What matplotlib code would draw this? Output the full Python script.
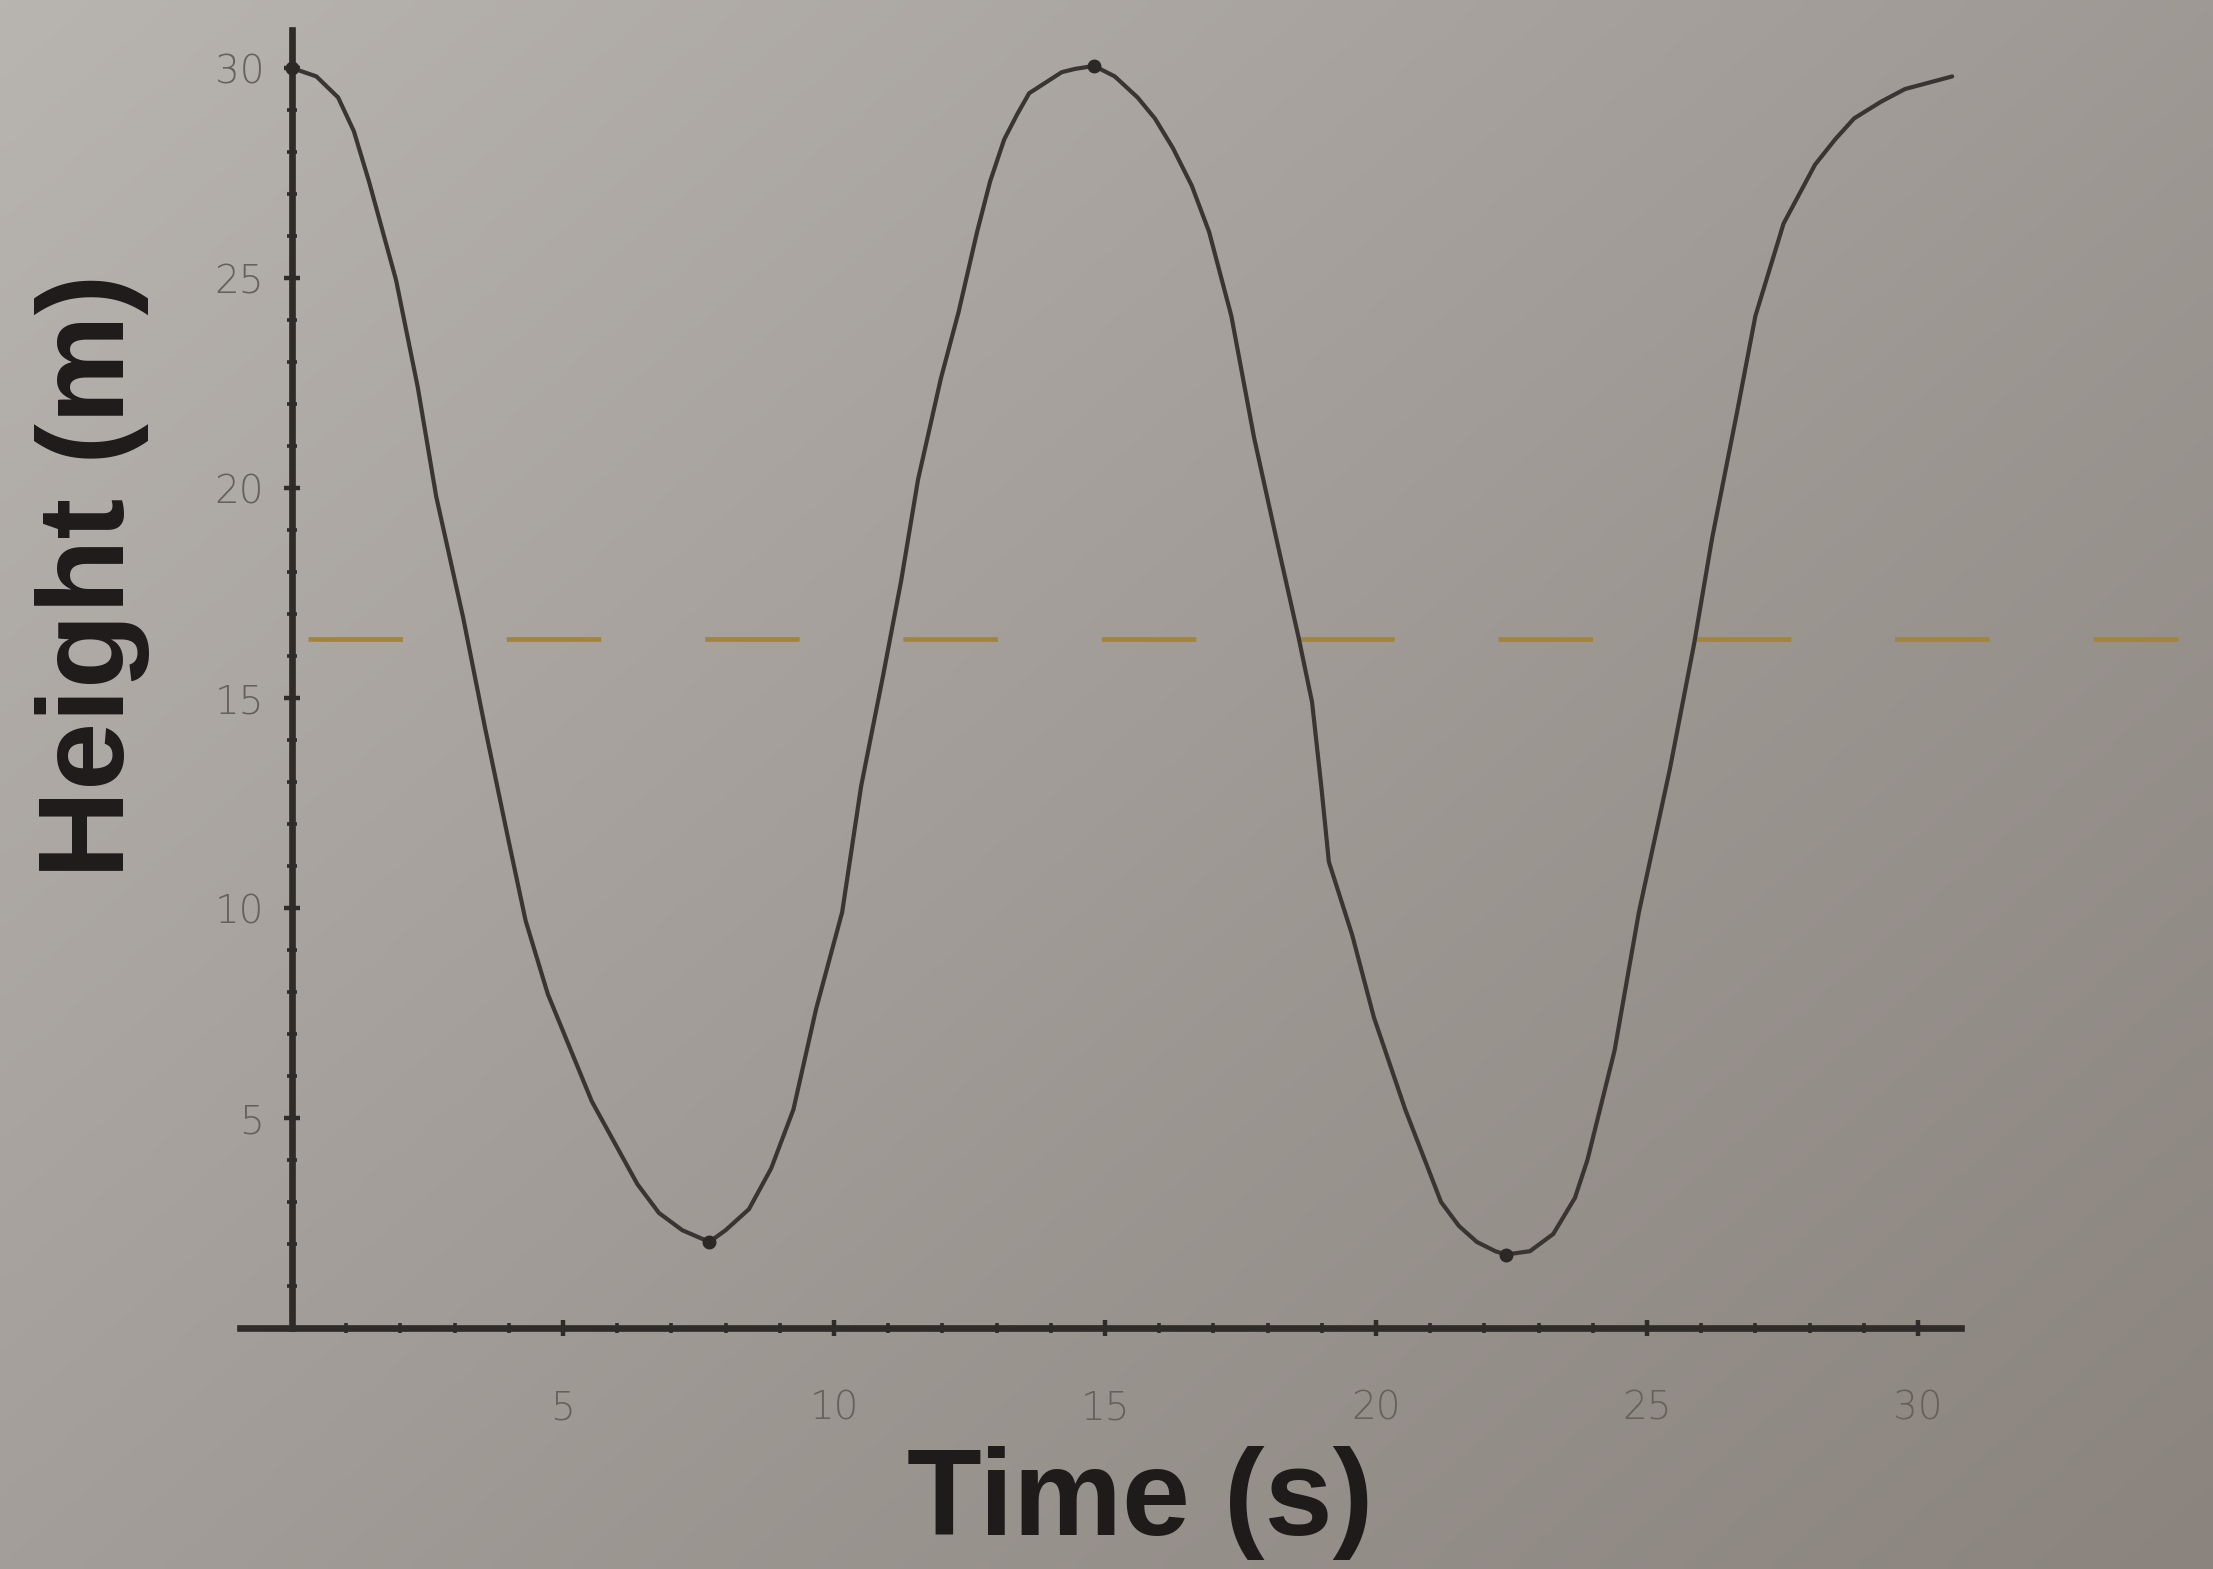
import numpy as np
import matplotlib
matplotlib.use("Agg")
import matplotlib.pyplot as plt
from matplotlib.ticker import FixedLocator

# ---- data ----
time_s = [0.0, 0.45, 0.85, 1.14, 1.42, 1.92, 2.32, 2.66, 3.16, 3.56, 3.98, 4.31,
          4.72, 5.53, 6.37, 6.77, 7.2, 7.7, 8.0, 8.43, 8.84, 9.25, 9.67, 10.15,
          10.5, 10.9, 11.24, 11.55, 11.97, 12.3, 12.64, 12.88, 13.14, 13.38,
          13.6, 14.2, 14.45, 14.8, 15.18, 15.6, 15.92, 16.25, 16.6, 16.92,
          17.33, 17.75, 18.16, 18.57, 18.82, 18.99, 19.13, 19.56, 19.96, 20.54,
          21.2, 21.53, 21.86, 22.2, 22.4, 22.84, 23.27, 23.67, 23.9, 24.4,
          24.85, 25.42, 25.87, 26.2, 26.66, 27.0, 27.52, 28.1, 28.47, 28.82,
          29.32, 29.76, 30.63]
height_m = [30.0, 29.8, 29.3, 28.5, 27.3, 24.95, 22.4, 19.8, 16.9, 14.3, 11.7, 9.7,
            7.95, 5.4, 3.43, 2.74, 2.33, 2.05, 2.33, 2.83, 3.8, 5.2, 7.6, 9.9,
            12.9, 15.5, 17.8, 20.2, 22.6, 24.2, 26.1, 27.3, 28.3, 28.9,
            29.4, 29.9, 29.98, 30.05, 29.8, 29.3, 28.8, 28.1, 27.2, 26.1,
            24.1, 21.2, 18.8, 16.45, 14.9, 12.9, 11.1, 9.36, 7.4, 5.2,
            3.0, 2.43, 2.05, 1.83, 1.75, 1.83, 2.24, 3.1, 4.0, 6.6,
            9.9, 13.3, 16.3, 18.8, 21.8, 24.1, 26.3, 27.7, 28.3, 28.8,
            29.2, 29.5, 29.8]
marker_t = [0.0, 7.7, 14.8, 22.4]
marker_h = [30.0, 2.05, 30.05, 1.75]
midline_h = 16.4
midline_t = [0.3, 34.8]
x_ticks = [5, 10, 15, 20, 25, 30]
y_ticks = [5, 10, 15, 20, 25, 30]
x_minor = [v for v in range(1, 31) if v % 5]
y_minor = [v for v in range(1, 31) if v % 5]

W, H, DPI = 2213, 1569, 200
fig = plt.figure(figsize=(W / DPI, H / DPI), dpi=DPI)

# photographic paper background (decorative)
bg = fig.add_axes([0, 0, 1, 1], zorder=-10)
gx, gy = np.meshgrid(np.linspace(0, 1, 200), np.linspace(0, 1, 150))
g = 0.55 * gx + 0.45 * gy
c0 = np.array([184, 180, 176]) / 255.0
c1 = np.array([138, 131, 126]) / 255.0
img = c0[None, None, :] * (1 - g[..., None]) + c1[None, None, :] * g[..., None]
bg.imshow(img, aspect="auto", extent=[0, 1, 0, 1], interpolation="bilinear")
bg.axis("off")

ax = fig.add_axes([0.08297, 0.1268, 0.9062, 0.8700])
ax.patch.set_alpha(0)
ax.set_xlim(-2, 35)
ax.set_ylim(-1, 31.5)

axis_col = "#2f2b29"
for s in ["top", "right"]:
    ax.spines[s].set_visible(False)
ax.spines["left"].set_position(("data", 0))
ax.spines["bottom"].set_position(("data", 0))
ax.spines["left"].set_bounds(0, 30.9)
ax.spines["bottom"].set_bounds(-0.96, 30.8)
for s in ["left", "bottom"]:
    ax.spines[s].set_linewidth(2.4)
    ax.spines[s].set_color(axis_col)

ax.xaxis.set_major_locator(FixedLocator(x_ticks))
ax.yaxis.set_major_locator(FixedLocator(y_ticks))
ax.xaxis.set_minor_locator(FixedLocator(x_minor))
ax.yaxis.set_minor_locator(FixedLocator(y_minor))
ax.set_xticklabels([str(v) for v in x_ticks])
ax.set_yticklabels([str(v) for v in y_ticks])
ax.tick_params(axis="both", which="major", direction="inout", length=6,
               width=1.6, color=axis_col, labelsize=14, labelcolor="#67615c")
ax.tick_params(axis="both", which="minor", direction="inout", length=3.5,
               width=1.3, color=axis_col)
ax.tick_params(axis="x", which="major", pad=19)
ax.tick_params(axis="y", which="major", pad=7)
for lab in ax.get_xticklabels() + ax.get_yticklabels():
    lab.set_fontfamily("DejaVu Sans")
    lab.set_fontweight("light")

# dashed midline
ax.plot(midline_t, [midline_h, midline_h], color="#a3843f", lw=1.7,
        linestyle=(0, (20, 22)), solid_capstyle="butt", clip_on=False, zorder=2)

# curve
ax.plot(time_s, height_m, color="#3a3532", lw=1.5, solid_joinstyle="round",
        solid_capstyle="round", clip_on=False, zorder=3)
ax.plot(marker_t, marker_h, "o", color="#2c2826", ms=4, clip_on=False, zorder=4)

fig.text(0.0416, 0.633, "Height (m)", rotation=90, ha="center", va="center",
         fontsize=44, fontweight="bold", family="Liberation Sans", color="#1e1b1a")
fig.text(0.515, 0.042, "Time (s)", ha="center", va="center",
         fontsize=44, fontweight="bold", family="Liberation Sans", color="#1e1b1a")

fig.savefig("out.png", dpi=DPI)
